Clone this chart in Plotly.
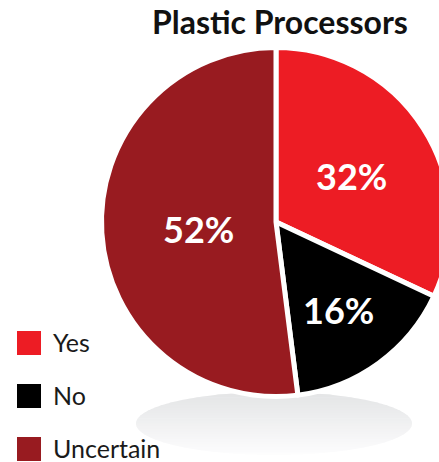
import numpy as np
import plotly.graph_objects as go

# Survey answers
categories = ["Yes", "No", "Uncertain"]
shares = [32, 16, 52]
colors = ["#ed1c24", "#000000", "#981b20"]
title_text = "Plastic Processors"

W, H = 460, 462
FONT = "Lato"

# pie geometry in pixels
cx, cy, rad = 276, 222, 174.5
visible_r = 172
# how far out along each slice's bisector its percentage sits (fraction of radius)
label_depth = [0.52, 0.62, 0.45]

fig = go.Figure()

fig.add_trace(go.Pie(
    labels=categories,
    values=shares,
    sort=False,
    direction="clockwise",
    rotation=0,
    marker=dict(colors=colors, line=dict(color="white", width=5)),
    textinfo="none",
    showlegend=False,
    hoverinfo="label+percent",
    domain=dict(x=[(cx - rad) / W, (cx + rad) / W],
                y=[(H - (cy + rad)) / H, (H - (cy - rad)) / H]),
))

annotations = []

# percentage labels placed on each slice's bisector
total = float(sum(shares))
start = 0.0
for val, depth in zip(shares, label_depth):
    mid = (start + val / 2) / total * 2 * np.pi
    start += val
    lx = cx + depth * visible_r * np.sin(mid)
    ly = cy - depth * visible_r * np.cos(mid)
    annotations.append(dict(text=f"<b>{val}%</b>", x=lx, y=ly + 2, xref="x", yref="y",
                            xanchor="center", yanchor="middle", showarrow=False,
                            font=dict(family=FONT, size=36, color="white")))

# soft shadow under the pie: ellipse split into horizontal bands
ex0, ex1, ey0, ey1 = 136, 412, 392, 455
ecx, ecy = (ex0 + ex1) / 2, (ey0 + ey1) / 2
ea, eb = (ex1 - ex0) / 2, (ey1 - ey0) / 2
nb = 24
shapes = []
edges = np.linspace(ey0, ey1, nb + 1)
top_rgb = np.array([228, 229, 230])
bot_rgb = np.array([253, 253, 253])
for i in range(nb):
    ya, yb = edges[i], min(edges[i + 1] + 0.6, ey1)
    ys = np.linspace(ya, yb, 6)
    half = ea * np.sqrt(np.clip(1 - ((ys - ecy) / eb) ** 2, 0, 1))
    left = [(ecx - h, y) for h, y in zip(half, ys)]
    right = [(ecx + h, y) for h, y in zip(half[::-1], ys[::-1])]
    path = "M " + " L ".join(f"{x:.2f},{y:.2f}" for x, y in left + right) + " Z"
    t = i / (nb - 1)
    c = (top_rgb * (1 - t) + bot_rgb * t).astype(int)
    shapes.append(dict(type="path", path=path, xref="x", yref="y",
                       fillcolor=f"rgb({c[0]},{c[1]},{c[2]})",
                       line=dict(width=0), layer="below"))

# legend: squares and labels
row_top, row_gap, box = 331, 53, 24
for k, (name, col) in enumerate(zip(categories, colors)):
    y0 = row_top + k * row_gap
    shapes.append(dict(type="rect", xref="x", yref="y",
                       x0=17, x1=17 + box, y0=y0, y1=y0 + box,
                       fillcolor=col, line=dict(width=0)))
    annotations.append(dict(text=name, x=51, y=y0 + box / 2 - 1, xref="x", yref="y",
                            xanchor="left", yanchor="middle", showarrow=False,
                            font=dict(family=FONT, size=25, color="#1a1a1a")))

annotations.append(dict(text=f"<b>{title_text}</b>", x=280, y=21, xref="x", yref="y",
                        xanchor="center", yanchor="middle", showarrow=False,
                        font=dict(family=FONT, size=32, color="#111111")))

fig.update_layout(
    width=W, height=H,
    margin=dict(l=0, r=0, t=0, b=0),
    paper_bgcolor="white", plot_bgcolor="white",
    xaxis=dict(range=[0, W], visible=False, fixedrange=True),
    yaxis=dict(range=[H, 0], visible=False, fixedrange=True),
    shapes=shapes,
    annotations=annotations,
)

fig.write_html(
    "out.html",
    config={"displayModeBar": False},
    post_script="document.documentElement.style.overflow='hidden';document.body.style.overflow='hidden';document.body.style.margin='0';",
)
